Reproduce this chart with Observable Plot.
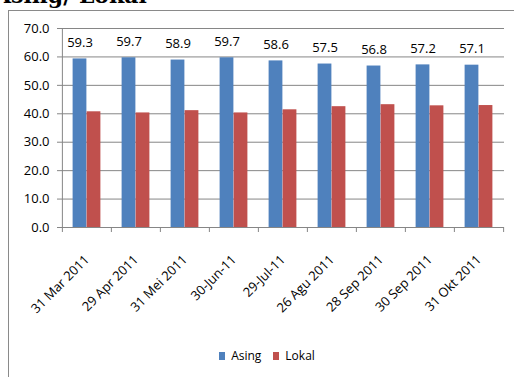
<!DOCTYPE html>
<html>
<head>
<meta charset="utf-8">
<script src="https://cdn.jsdelivr.net/npm/d3@7"></script>
<script src="https://cdn.jsdelivr.net/npm/@observablehq/plot@0.6"></script>
<style>
  html, body { margin: 0; padding: 0; background: #fff; }
  #wrap { position: relative; width: 514px; height: 377px; overflow: hidden; background: #fff; }
  #title { position: absolute; left: -6px; top: -16px; font: bold 22px/22px "DejaVu Serif", serif; color: #000; white-space: nowrap; }
  #box { position: absolute; left: 8px; top: 10px; width: 600px; height: 500px; border-left: 1.5px solid #8a8a8a; border-top: 1.5px solid #8a8a8a; }
  #chart { position: absolute; left: 0; top: 0; }
  #legend { position: absolute; left: 16px; top: 339px; width: 514px; display: flex; justify-content: center; }
  #legend .swatches { font: 12px "Open Sans", sans-serif; color: #000; }
</style>
</head>
<body>
<div id="wrap">
  <div id="box"></div>
  <div id="title">Asing/ Lokal</div>
  <div id="chart"></div>
  <div id="legend"></div>
</div>
<script>
// Share of foreign (Asing) vs local (Lokal) ownership, percent
const dates = ["31 Mar 2011", "29 Apr 2011", "31 Mei 2011", "30-Jun-11", "29-Jul-11",
               "26 Agu 2011", "28 Sep 2011", "30 Sep 2011", "31 Okt 2011"];
const asing = [59.3, 59.7, 58.9, 59.7, 58.6, 57.5, 56.8, 57.2, 57.1];
const lokal = [40.7, 40.3, 41.1, 40.3, 41.4, 42.5, 43.2, 42.8, 42.9];
const yTicks = [0, 10, 20, 30, 40, 50, 60, 70];
const seriesNames = ["Asing", "Lokal"];
const seriesColors = ["#4F81BD", "#C0504D"];

const rows = dates.map((d, i) => ({date: d, asing: asing[i], lokal: lokal[i]}));

const width = 514, height = 340;
const marginLeft = 61, marginRight = 10, marginTop = 28, marginBottom = 113;
const step = (width - marginLeft - marginRight) / dates.length;
const barW = 14;
const gray = "#868686";
const font = '"Open Sans", sans-serif';

const chart = Plot.plot({
  width, height, marginLeft, marginRight, marginTop, marginBottom,
  style: {fontFamily: font, color: "#000", background: "transparent", overflow: "visible"},
  x: {domain: dates, padding: 0, label: null},
  y: {domain: [0, 70], label: null},
  marks: [
    Plot.gridY(yTicks, {stroke: gray, strokeOpacity: 1, strokeWidth: 1}),
    Plot.axisY({ticks: yTicks, tickFormat: d => d.toFixed(1), tickSize: 4, tickPadding: 8,
                fontSize: 13, stroke: gray, label: null}),
    Plot.barY(rows, {x: "date", y: "asing", fill: seriesColors[0],
                     insetLeft: step / 2 - barW, insetRight: step / 2}),
    Plot.barY(rows, {x: "date", y: "lokal", fill: seriesColors[1],
                     insetLeft: step / 2, insetRight: step / 2 - barW}),
    // axis lines
    Plot.ruleX([dates[0]], {x: d => d, dx: -step / 2, y1: 0, y2: 70, stroke: gray}),
    Plot.ruleY([0], {stroke: gray}),
    // category boundary ticks
    Plot.ruleX(dates, {x: d => d, dx: -step / 2, y1: 0, y2: 0, insetBottom: -5, stroke: gray}),
    Plot.ruleX([dates[dates.length - 1]], {x: d => d, dx: step / 2, y1: 0, y2: 0, insetBottom: -5, stroke: gray}),
    // value labels above the Asing bars
    Plot.text(rows, {x: "date", y: "asing", text: d => d.asing.toFixed(1),
                     dx: -barW / 2, dy: -16, fontSize: 13, fill: "#000"}),
    Plot.axisX({tickRotate: -45, tickSize: 0, tickPadding: 30, fontSize: 13, label: null})
  ]
});
document.getElementById("chart").appendChild(chart);

const legend = Plot.legend({
  color: {domain: seriesNames, range: seriesColors},
  legend: "swatches",
  swatchWidth: 6, swatchHeight: 8,
  style: {fontFamily: font, fontSize: "12px"}
});
document.getElementById("legend").appendChild(legend);
</script>
</body>
</html>
